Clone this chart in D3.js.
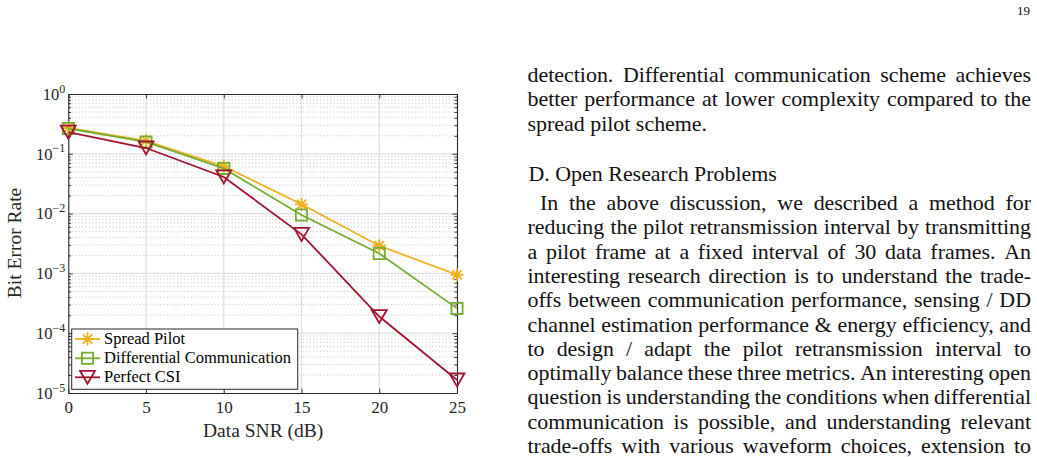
<!DOCTYPE html>
<html><head><meta charset="utf-8">
<script src="https://cdn.jsdelivr.net/npm/d3@7/dist/d3.min.js"></script>
<style>html,body{margin:0;padding:0;background:#fff}svg{display:block}
svg text{font-family:"Liberation Serif","DejaVu Serif",serif}</style>
</head><body>
<svg id="page" width="1037" height="457"></svg>
<script>
// ---------------- data ----------------
const snr = [0, 5, 10, 15, 20, 25];
const spreadPilot = [0.27, 0.165, 0.062, 0.0143, 0.0029, 0.00095];
const diffComm = [0.265, 0.158, 0.057, 0.0095, 0.00215, 0.00026];
const perfectCSI = [0.23, 0.125, 0.041, 0.0045, 0.00019, 0.0000165];
const seriesNames = ["Spread Pilot", "Differential Communication", "Perfect CSI"];
const xTickValues = [0, 5, 10, 15, 20, 25];
const yTickValues = [1, 1e-1, 1e-2, 1e-3, 1e-4, 1e-5];
const yTickExponents = ["0", "\u22121", "\u22122", "\u22123", "\u22124", "\u22125"];
const xLabel = "Data SNR (dB)";
const yLabel = "Bit Error Rate";
const pageNumber = "19";
const para1Lines = [
  "detection. Differential communication scheme achieves",
  "better performance at lower complexity compared to the",
  "spread pilot scheme."
];
const headingText = "D. Open Research Problems";
const para2Lines = [
  "In the above discussion, we described a method for",
  "reducing the pilot retransmission interval by transmitting",
  "a pilot frame at a fixed interval of 30 data frames. An",
  "interesting research direction is to understand the trade-",
  "offs between communication performance, sensing / DD",
  "channel estimation performance & energy efficiency, and",
  "to design / adapt the pilot retransmission interval to",
  "optimally balance these three metrics. An interesting open",
  "question is understanding the conditions when differential",
  "communication is possible, and understanding relevant",
  "trade-offs with various waveform choices, extension to"
];

// ---------------- styles ----------------
const FONT = "Liberation Serif, DejaVu Serif, serif";
const colors = ["#EDB120", "#77AC30", "#A2142F"];
const axisColor = "#262626";

const svg = d3.select("#page");
svg.append("rect").attr("width", 1037).attr("height", 457).attr("fill", "#fff");

// ---------------- chart ----------------
const plot = {left: 68.3, right: 457, top: 94, bottom: 393};
const x = d3.scaleLinear().domain([0, 25]).range([plot.left, plot.right]);
const y = d3.scaleLog().domain([1e-5, 1]).range([plot.bottom, plot.top]);

const minorVals = [];
for (let e = -5; e < 0; e++) for (let k = 2; k <= 9; k++) minorVals.push(k * Math.pow(10, e));

const chart = svg.append("g");

// grids
const grid = chart.append("g");
grid.selectAll("line.ymin").data(minorVals).join("line")
  .attr("x1", plot.left).attr("x2", plot.right)
  .attr("y1", d => y(d)).attr("y2", d => y(d))
  .attr("stroke", "#c4c4c4").attr("stroke-width", 0.9)
  .attr("stroke-dasharray", "1.2,2.2");
grid.selectAll("line.ymaj").data(yTickValues.slice(1, -1)).join("line")
  .attr("x1", plot.left).attr("x2", plot.right)
  .attr("y1", d => y(d)).attr("y2", d => y(d))
  .attr("stroke", "#dedede").attr("stroke-width", 1.2);
grid.selectAll("line.xmaj").data(xTickValues.slice(1, -1)).join("line")
  .attr("y1", plot.top).attr("y2", plot.bottom)
  .attr("x1", d => x(d)).attr("x2", d => x(d))
  .attr("stroke", "#dedede").attr("stroke-width", 1.2);

// axes
function styleAxis(g) {
  g.selectAll("path.domain").attr("stroke", axisColor).attr("stroke-width", 1.1);
  g.selectAll(".tick line").attr("stroke", axisColor).attr("stroke-width", 0.9);
  g.selectAll("text").attr("fill", axisColor).attr("font-family", FONT);
}
const axB = chart.append("g").attr("transform", `translate(0,${plot.bottom})`)
  .call(d3.axisBottom(x).tickValues(xTickValues).tickSizeInner(-4.5).tickSizeOuter(0).tickPadding(12).tickFormat(d3.format("d")));
axB.selectAll("text").attr("font-size", 17).attr("dy", "0.71em").attr("y", 8);
styleAxis(axB);
const axT = chart.append("g").attr("transform", `translate(0,${plot.top})`)
  .call(d3.axisTop(x).tickValues(xTickValues).tickSizeInner(-4.5).tickSizeOuter(0).tickFormat(""));
styleAxis(axT);

const axL = chart.append("g").attr("transform", `translate(${plot.left},0)`)
  .call(d3.axisLeft(y).tickValues(yTickValues).tickSizeInner(-4.5).tickSizeOuter(0).tickPadding(4).tickFormat(() => ""));
styleAxis(axL);
axL.selectAll(".tick text").each(function(d, i) {
  const t = d3.select(this);
  t.attr("font-size", 16.5).attr("text-anchor", "end").attr("x", -3).attr("dy", "0.32em");
  t.append("tspan").text("10");
  t.append("tspan").attr("font-size", 12).attr("dy", "-0.6em").text(yTickExponents[i]);
});
const axLm = chart.append("g").attr("transform", `translate(${plot.left},0)`)
  .call(d3.axisLeft(y).tickValues(minorVals).tickSizeInner(-2.7).tickSizeOuter(0).tickFormat(""));
styleAxis(axLm);
axLm.select("path.domain").remove();
const axR = chart.append("g").attr("transform", `translate(${plot.right},0)`)
  .call(d3.axisRight(y).tickValues(yTickValues).tickSizeInner(-4.5).tickSizeOuter(0).tickFormat(""));
styleAxis(axR);
const axRm = chart.append("g").attr("transform", `translate(${plot.right},0)`)
  .call(d3.axisRight(y).tickValues(minorVals).tickSizeInner(-2.7).tickSizeOuter(0).tickFormat(""));
styleAxis(axRm);
axRm.select("path.domain").remove();

// axis labels
chart.append("text").attr("x", (plot.left + plot.right) / 2 + 0.5).attr("y", 437)
  .attr("text-anchor", "middle").attr("font-family", FONT).attr("font-size", 19.5)
  .attr("fill", axisColor).text(xLabel);
chart.append("text").attr("transform", `translate(20.5,243) rotate(-90)`)
  .attr("text-anchor", "middle").attr("font-family", FONT).attr("font-size", 19.5)
  .attr("fill", axisColor).text(yLabel);

// markers
function markerPath(type) {
  if (type === 0) { // asterisk
    const r = 6.5, q = r * 0.72;
    return `M${-r},0L${r},0M0,${-r}L0,${r}M${-q},${-q}L${q},${q}M${-q},${q}L${q},${-q}`;
  }
  if (type === 1) { const s = 5.6; return `M${-s},${-s}H${s}V${s}H${-s}Z`; }
  return "M-7.5,-6.5H7.5L0,6.5Z";
}

const allSeries = [spreadPilot, diffComm, perfectCSI];
const line = d3.line().x((d, i) => x(snr[i])).y(d => y(d));
const seriesG = chart.append("g");
allSeries.forEach((vals, si) => {
  const g = seriesG.append("g");
  g.append("path").attr("d", line(vals)).attr("fill", "none")
    .attr("stroke", colors[si]).attr("stroke-width", 1.8);
  g.selectAll("path.m").data(vals).join("path").attr("class", "m")
    .attr("transform", (d, i) => `translate(${x(snr[i])},${y(d)})`)
    .attr("d", markerPath(si)).attr("fill", "none")
    .attr("stroke", colors[si]).attr("stroke-width", 1.8);
});

// legend
const leg = chart.append("g");
leg.append("rect").attr("x", 71.7).attr("y", 329).attr("width", 226).attr("height", 60.3)
  .attr("fill", "#fff").attr("stroke", axisColor).attr("stroke-width", 1);
const legY = [339, 358.3, 377.3];
seriesNames.forEach((name, si) => {
  const yy = legY[si];
  leg.append("line").attr("x1", 75).attr("x2", 100).attr("y1", yy).attr("y2", yy)
    .attr("stroke", colors[si]).attr("stroke-width", 1.8);
  leg.append("path").attr("transform", `translate(87.5,${yy})`).attr("d", markerPath(si))
    .attr("fill", "none").attr("stroke", colors[si]).attr("stroke-width", 1.8);
  leg.append("text").attr("x", 104).attr("y", yy + 5).attr("font-family", FONT)
    .attr("font-size", 16.5).attr("fill", "#000").text(name);
});

// ---------------- text column ----------------
const textG = svg.append("g").attr("font-family", FONT).attr("fill", "#111");
const colLeft = 527.5, colRight = 1031;

// fit font size so the heading width matches
const probe = textG.append("text").attr("font-size", 20).text(headingText);
const hw = probe.node().getComputedTextLength();
probe.remove();
const bodySize = 20 * 248.5 / hw;
textG.attr("font-size", bodySize);

function measure(str) {
  const t = textG.append("text").text(str);
  const w = t.node().getComputedTextLength();
  t.remove();
  return w;
}
function drawLine(str, x0, yb, justify) {
  const t = textG.append("text").attr("y", yb);
  if (!justify) { t.attr("x", x0).text(str); return; }
  const words = str.split(" ");
  const widths = words.map(measure);
  const total = d3.sum(widths);
  const gap = (colRight - x0 - total) / (words.length - 1);
  let cx = x0;
  words.forEach((w, i) => {
    t.append("tspan").attr("x", cx).text(w + (i < words.length - 1 ? " " : ""));
    cx += widths[i] + gap;
  });
}
const para1Base = [82, 106.4, 130.8];
para1Lines.forEach((s, i) => drawLine(s, colLeft, para1Base[i], i < para1Lines.length - 1));
drawLine(headingText, 528.5, 181, false);
para2Lines.forEach((s, i) => drawLine(s, i === 0 ? 540 : colLeft, 210 + 24.3 * i, true));

// page number
svg.append("text").attr("x", 1030).attr("y", 15).attr("text-anchor", "end")
  .attr("font-family", FONT).attr("font-size", 13).attr("fill", "#111").text(pageNumber);
</script>
</body></html>
